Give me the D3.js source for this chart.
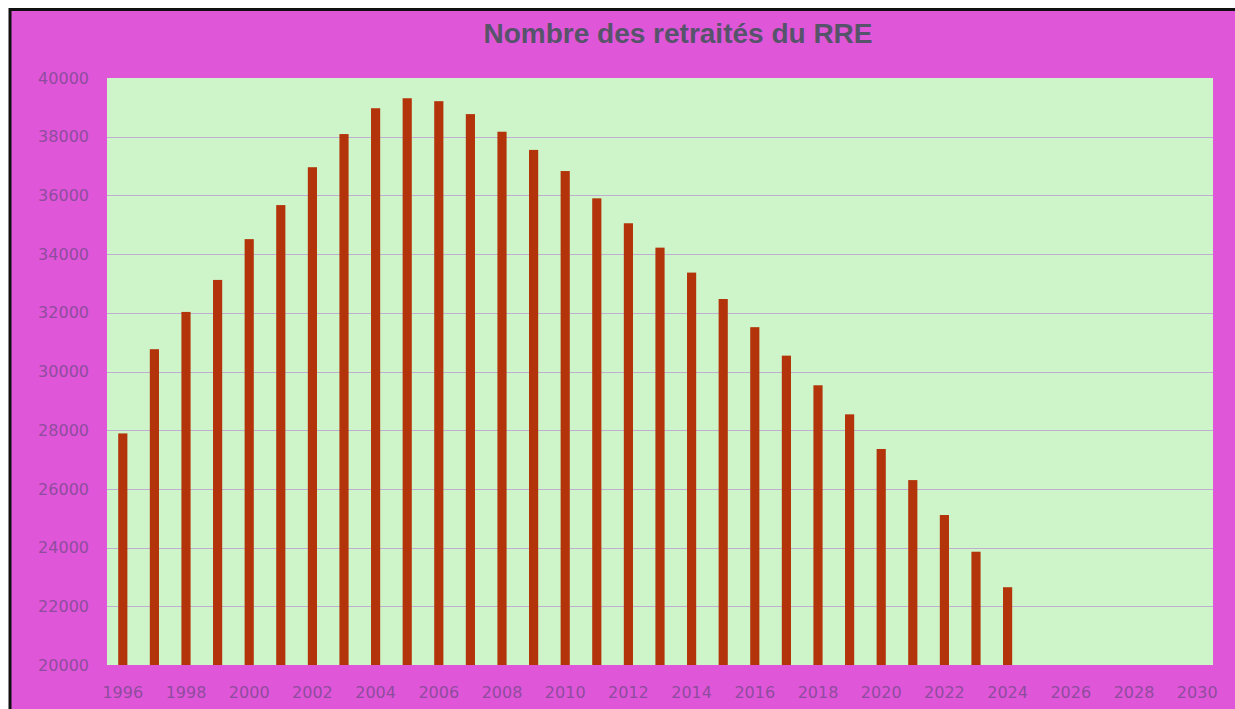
<!DOCTYPE html>
<html>
<head>
<meta charset="utf-8">
<script src="https://cdn.jsdelivr.net/npm/d3@7"></script>
<style>
  body { margin: 0; background: #ffffff; }
  svg { display: block; }
</style>
</head>
<body>
<svg id="canvas" width="1235" height="709"></svg>
<script>
// data
const years = d3.range(1996, 2031);
const retirees = [
    27890, 30760, 32030, 33120, 34510, 35670, 36960, 38090, 38970, 39310,
    39210, 38770, 38170, 37550, 36830, 35900, 35050, 34220, 33370, 32470,
    31510, 30540, 29530, 28540, 27360, 26300, 25110, 23860, 22650
];
const yTicks = [20000, 22000, 24000, 26000, 28000, 30000, 32000, 34000, 36000, 38000, 40000];
const xTicks = years.filter(y => y % 2 === 0);
const title = "Nombre des retraités du RRE";

const svg = d3.select("#canvas");
const width = 1235;
const height = 709;
const plot = { left: 107, top: 78, right: 1213, bottom: 665 };

const data = retirees.map((v, i) => ({ year: years[i], value: v }));

// outer frame
svg.append("rect")
    .attr("x", 10)
    .attr("y", 10)
    .attr("width", width - 10)
    .attr("height", height - 10)
    .attr("fill", "#e056d8");

svg.append("path")
    .attr("d", `M10,${height} V9.5 H${width}`)
    .attr("fill", "none")
    .attr("stroke", "#111")
    .attr("stroke-width", 3);

// plot background
svg.append("rect")
    .attr("x", plot.left)
    .attr("y", plot.top)
    .attr("width", plot.right - plot.left)
    .attr("height", plot.bottom - plot.top)
    .attr("fill", "#cdf5c9");

const x = d3.scaleBand()
    .domain(years)
    .range([plot.left, plot.right])
    .paddingInner(0.71)
    .paddingOuter(0.355);

const y = d3.scaleLinear()
    .domain([20000, 40000])
    .range([plot.bottom, plot.top]);

// gridlines
svg.append("g")
    .selectAll("line")
    .data(yTicks.slice(1, -1))
    .join("line")
    .attr("x1", plot.left)
    .attr("x2", plot.right)
    .attr("y1", d => Math.round(y(d)) + 0.5)
    .attr("y2", d => Math.round(y(d)) + 0.5)
    .attr("stroke", "#bfaed0")
    .attr("stroke-width", 1);

// bars
svg.append("g")
    .selectAll("rect")
    .data(data)
    .join("rect")
    .attr("x", d => x(d.year))
    .attr("y", d => y(d.value))
    .attr("width", x.bandwidth())
    .attr("height", d => y(20000) - y(d.value))
    .attr("fill", "#b3340a");

// axes
const yAxis = svg.append("g")
    .attr("transform", `translate(${plot.left},0)`)
    .call(d3.axisLeft(y)
        .tickValues(yTicks)
        .tickFormat(d3.format("d"))
        .tickSize(0)
        .tickPadding(18));

const xAxis = svg.append("g")
    .attr("transform", `translate(0,${plot.bottom})`)
    .call(d3.axisBottom(x)
        .tickValues(xTicks)
        .tickSize(0)
        .tickPadding(22));

[xAxis, yAxis].forEach(g => {
    g.select(".domain").remove();
    g.selectAll("text")
        .attr("fill", "#8e4c9e")
        .style("font-family", "'DejaVu Sans', sans-serif")
        .style("font-size", "16px");
});

// title
svg.append("text")
    .attr("x", 678)
    .attr("y", 43)
    .attr("text-anchor", "middle")
    .attr("fill", "#56546a")
    .style("font-family", "'Liberation Sans', Arial, sans-serif")
    .style("font-weight", "bold")
    .style("font-size", "28px")
    .text(title);
</script>
</body>
</html>
